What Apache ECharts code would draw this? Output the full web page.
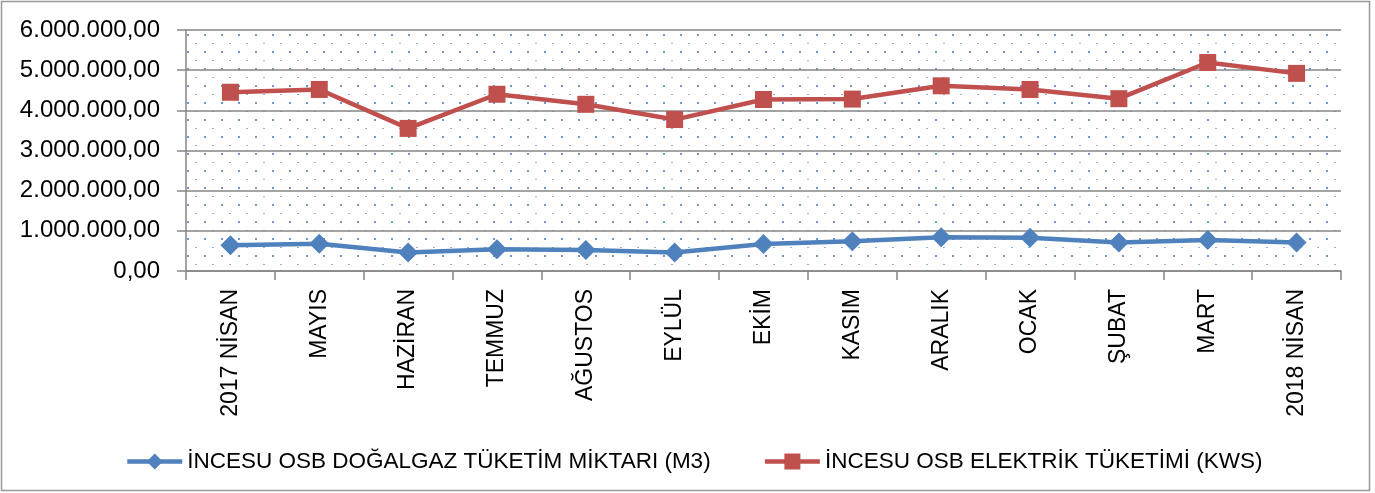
<!DOCTYPE html>
<html>
<head>
<meta charset="utf-8">
<script src="https://cdn.jsdelivr.net/npm/echarts@6/dist/echarts.min.js"></script>
<style>
  html, body { margin: 0; padding: 0; background: #fff; }
  #chart { width: 1375px; height: 493px; }
</style>
</head>
<body>
<div id="chart"></div>
<script>
  // aylar
  const months = ['2017 NİSAN', 'MAYIS', 'HAZİRAN', 'TEMMUZ', 'AĞUSTOS', 'EYLÜL', 'EKİM', 'KASIM', 'ARALIK', 'OCAK', 'ŞUBAT', 'MART', '2018 NİSAN']
  // doğalgaz (m3)
  const gasValues = [640000, 680000, 460000, 540000, 520000, 460000, 670000, 740000, 840000, 830000, 710000, 770000, 710000]
  // elektrik (kws)
  const electricValues = [4450000, 4520000, 3550000, 4400000, 4150000, 3770000, 4270000, 4280000, 4610000, 4520000, 4290000, 5190000, 4920000]
  const seriesNames = ['İNCESU OSB DOĞALGAZ TÜKETİM MİKTARI (M3)', 'İNCESU OSB ELEKTRİK TÜKETİMİ (KWS)']

  // noktali arka plan deseni
  function makePattern() {
    const c = document.createElement('canvas')
    c.width = 17
    c.height = 17
    const ctx = c.getContext('2d')
    ctx.fillStyle = '#fff'
    ctx.fillRect(0, 0, 17, 17)
    ctx.fillStyle = '#6f98d2'
    ctx.fillRect(0, 0, 2, 2)
    ctx.fillStyle = '#8fb0dc'
    ctx.fillRect(8, 9, 2, 1)
    return c
  }

  function formatTR(v) {
    const s = Math.round(v).toString().replace(/\B(?=(\d{3})+(?!\d))/g, '.')
    return s + ',00'
  }

  const chart = echarts.init(document.getElementById('chart'))
  const font = '"Liberation Sans", Arial, sans-serif'
  const option = {
    animation: false,
    backgroundColor: '#fff',
    textStyle: { fontFamily: font },
    graphic: [{
      type: 'rect',
      shape: { x: 1.5, y: 1.5, width: 1368, height: 489 },
      style: { fill: 'none', stroke: '#999', lineWidth: 1.5 },
      silent: true
    }],
    grid: {
      left: 186,
      right: 34,
      top: 30,
      bottom: 222,
      show: true,
      borderWidth: 0,
      backgroundColor: { image: makePattern(), repeat: 'repeat' }
    },
    legend: {
      top: 445,
      left: 120,
      itemWidth: 55,
      itemHeight: 20,
      itemGap: 52,
      lineStyle: { width: 4.5 },
      textStyle: { fontSize: 22.5, color: '#000', fontFamily: font },
      data: seriesNames
    },
    xAxis: {
      type: 'category',
      data: months,
      boundaryGap: true,
      axisLine: { lineStyle: { color: '#868686', width: 1.5 } },
      axisTick: { show: true, length: 9, lineStyle: { color: '#868686', width: 1.5 } },
      axisLabel: { rotate: 90, margin: 18, fontSize: 23, color: '#000', fontFamily: font, interval: 0 }
    },
    yAxis: {
      type: 'value',
      min: 0,
      max: 6000000,
      interval: 1000000,
      axisLine: { show: true, lineStyle: { color: '#868686', width: 1.5 } },
      axisTick: { show: true, length: 9, lineStyle: { color: '#868686', width: 1.5 } },
      splitLine: { lineStyle: { color: '#868686', width: 1.5 } },
      axisLabel: { margin: 26, fontSize: 24, color: '#000', fontFamily: font, formatter: formatTR }
    },
    series: [
      {
        name: seriesNames[0],
        type: 'line',
        data: gasValues,
        symbol: 'diamond',
        symbolSize: 20,
        lineStyle: { color: '#4f81bd', width: 4.5 },
        itemStyle: { color: '#4f81bd' }
      },
      {
        name: seriesNames[1],
        type: 'line',
        data: electricValues,
        symbol: 'rect',
        symbolSize: 17,
        lineStyle: { color: '#c0504d', width: 4.5 },
        itemStyle: { color: '#c0504d' }
      }
    ]
  }
  chart.setOption(option)
</script>
</body>
</html>
